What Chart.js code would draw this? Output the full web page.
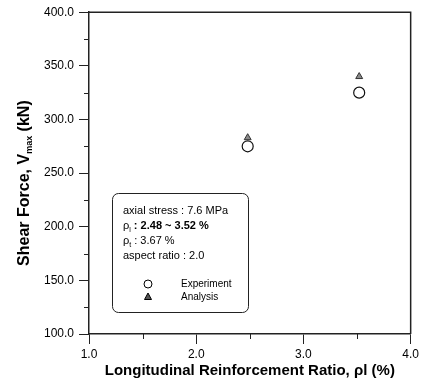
<!DOCTYPE html>
<html>
<head>
<meta charset="utf-8">
<script src="https://cdn.jsdelivr.net/npm/chart.js@4"></script>
<style>
  body { margin: 0; background: #fff; }
  #wrap { width: 422px; height: 389px; }
</style>
</head>
<body>
<div id="wrap"><canvas id="shear-chart" width="422" height="389"></canvas></div>
<script>
// longitudinal reinforcement ratio (%) and max shear force (kN)
const ratios = [2.48, 3.52];
const experiment = [275, 325];
const analysis = [283, 340];
const xTicks = [1.0, 2.0, 3.0, 4.0];
const yTicks = [100, 150, 200, 250, 300, 350, 400];

const ink = '#222';
const font = "'Liberation Sans', Arial, sans-serif";

function points(ys) {
    return ratios.map((r, i) => ({ x: r, y: ys[i] }));
}

// frame, minor ticks, y title and the boxed note
const extras = {
    id: 'extras',
    afterDraw(chart) {
        const ctx = chart.ctx;
        const a = chart.chartArea;
        const xs = chart.scales.x, ys = chart.scales.y;
        ctx.save();
        ctx.strokeStyle = ink;
        ctx.lineWidth = 1.5;
        ctx.beginPath();
        ctx.moveTo(a.left, a.top);
        ctx.lineTo(a.right, a.top);
        ctx.lineTo(a.right, a.bottom);
        ctx.stroke();

        ctx.lineWidth = 1;
        ctx.beginPath();
        for (let v = 1.5; v < 4; v += 1) {
            const px = Math.round(xs.getPixelForValue(v)) + 0.5;
            ctx.moveTo(px, a.bottom);
            ctx.lineTo(px, a.bottom + 5);
        }
        for (let v = 125; v < 400; v += 50) {
            const py = Math.round(ys.getPixelForValue(v)) + 0.5;
            ctx.moveTo(a.left, py);
            ctx.lineTo(a.left - 5, py);
        }
        ctx.stroke();

        // y title with subscript
        ctx.translate(25, (a.top + a.bottom) / 2 + 10);
        ctx.rotate(-Math.PI / 2);
        ctx.fillStyle = '#000';
        ctx.textBaseline = 'middle';
        const parts = [
            ['Shear Force, V', 'bold 16px ' + font, 0],
            ['max', 'bold 9px ' + font, 5],
            [' (kN)', 'bold 16px ' + font, 0]
        ];
        let w = 0;
        parts.forEach(p => { ctx.font = p[1]; w += ctx.measureText(p[0]).width; });
        let x = -w / 2;
        parts.forEach(p => {
            ctx.font = p[1];
            ctx.fillText(p[0], x, p[2]);
            x += ctx.measureText(p[0]).width;
        });
        ctx.restore();

        // note box
        ctx.save();
        ctx.strokeStyle = ink;
        ctx.lineWidth = 1;
        ctx.beginPath();
        ctx.roundRect(112.5, 193.5, 136, 119, 6);
        ctx.fillStyle = '#fff';
        ctx.fill();
        ctx.stroke();

        ctx.fillStyle = '#000';
        ctx.textBaseline = 'middle';
        const reg = '11px ' + font, bold = 'bold 11px ' + font, sub = '7px ' + font;
        function run(segs, x0, y0) {
            let cx = x0;
            segs.forEach(s => {
                ctx.font = s[1];
                ctx.fillText(s[0], cx, y0 + (s[2] || 0));
                cx += ctx.measureText(s[0]).width;
            });
        }
        run([['axial stress : 7.6 MPa', reg]], 123, 211);
        run([['ρ', reg], ['l', sub, 4], [' : ', bold], ['2.48 ~ 3.52 %', bold]], 123, 226);
        run([['ρ', reg], ['t', sub, 4], [' : 3.67 %', reg]], 123, 241);
        run([['aspect ratio : 2.0', reg]], 123, 256);
        run([['Experiment', '10px ' + font]], 181, 284);
        run([['Analysis', '10px ' + font]], 181, 297);

        ctx.beginPath();
        ctx.arc(148, 284, 4, 0, Math.PI * 2);
        ctx.strokeStyle = '#000';
        ctx.stroke();
        ctx.beginPath();
        ctx.moveTo(148, 293);
        ctx.lineTo(151.5, 299.5);
        ctx.lineTo(144.5, 299.5);
        ctx.closePath();
        ctx.fillStyle = '#555';
        ctx.fill();
        ctx.stroke();
        ctx.restore();
    }
};

new Chart(document.getElementById('shear-chart'), {
    type: 'scatter',
    data: {
        datasets: [{
            label: 'Experiment',
            data: points(experiment),
            pointStyle: 'circle',
            pointRadius: 5.5,
            backgroundColor: '#fff',
            borderColor: '#111',
            borderWidth: 1.2
        }, {
            label: 'Analysis',
            data: points(analysis),
            pointStyle: 'triangle',
            pointRadius: 4,
            backgroundColor: '#8a8a8a',
            borderColor: '#333',
            borderWidth: 1
        }]
    },
    options: {
        responsive: false,
        animation: false,
        layout: { padding: { top: 8, right: 9, left: 0, bottom: 9 } },
        plugins: {
            legend: { display: false },
            tooltip: { enabled: false }
        },
        scales: {
            x: {
                type: 'linear',
                min: 1, max: 4,
                afterBuildTicks: s => { s.ticks = xTicks.map(v => ({ value: v })); },
                afterFit: s => { s.height = 46; },
                border: { color: ink, width: 1.5 },
                grid: { drawOnChartArea: false, drawTicks: true, tickLength: 10, color: ink },
                ticks: {
                    color: '#000',
                    padding: 3,
                    font: { family: font, size: 12 },
                    callback: v => Number(v).toFixed(1)
                },
                title: {
                    display: true,
                    text: 'Longitudinal Reinforcement Ratio, ρl (%)',
                    color: '#000',
                    padding: { top: 2, bottom: 0 },
                    font: { family: font, size: 15, weight: 'bold' }
                }
            },
            y: {
                type: 'linear',
                min: 100, max: 400,
                afterBuildTicks: s => { s.ticks = yTicks.map(v => ({ value: v })); },
                afterFit: s => { s.width = 89; },
                border: { color: ink, width: 1.5 },
                grid: { drawOnChartArea: false, drawTicks: true, tickLength: 10, color: ink },
                ticks: {
                    color: '#000',
                    padding: 5,
                    font: { family: font, size: 12 },
                    callback: v => Number(v).toFixed(1)
                }
            }
        }
    },
    plugins: [extras]
});
</script>
</body>
</html>
